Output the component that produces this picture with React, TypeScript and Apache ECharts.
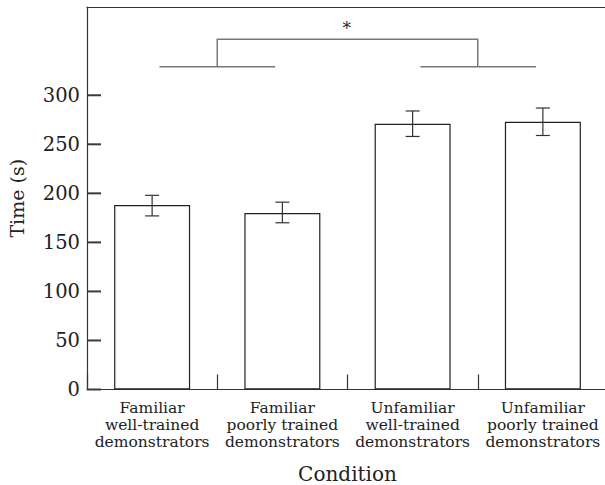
import React, { useEffect, useRef } from "react";
import * as echarts from "echarts";

const categories = [
  "Familiar\nwell-trained\ndemonstrators",
  "Familiar\npoorly trained\ndemonstrators",
  "Unfamiliar\nwell-trained\ndemonstrators",
  "Unfamiliar\npoorly trained\ndemonstrators",
];
const meanTimes = [188, 180, 271, 273];
const errLow = [177, 170, 258, 259];
const errHigh = [198, 191, 284, 287];
const yTickValues = [0, 50, 100, 150, 200, 250, 300];
const bracketBase = 329;
const bracketTop = 357;
const starLevel = 369;
const sigLabel = "*";

const FONT = "DejaVu Serif";

export default function App() {
  const ref = useRef<HTMLDivElement>(null);
  useEffect(() => {
    if (!ref.current) return;
    const chart = echarts.init(ref.current, undefined, { renderer: "svg" });
    const errData = categories.map((_, i) => [i, errLow[i], errHigh[i]]);
    const tickData = yTickValues.map((v) => [0, v]);
    chart.setOption({
      animation: false,
      backgroundColor: "#fff",
      textStyle: { fontFamily: FONT },
      grid: {
        left: 87,
        top: 7,
        width: 521,
        height: 382.5,
        show: false,
        containLabel: false,
        outerBoundsMode: "none",
      },
      xAxis: [
        {
          type: "category",
          data: categories,
          name: "Condition",
          nameLocation: "middle",
          nameGap: 74,
          nameTextStyle: { fontFamily: FONT, fontSize: 20, color: "#222" },
          axisLine: { show: true, lineStyle: { color: "#333", width: 1.2 } },
          axisTick: { show: true, inside: true, length: 15, lineStyle: { color: "#333", width: 1.2 } },
          axisLabel: {
            fontFamily: FONT,
            fontSize: 15.5,
            lineHeight: 17,
            color: "#222",
            margin: 10,
            interval: 0,
          },
        },
        {
          type: "category",
          position: "top",
          data: categories,
          axisLine: { show: true, onZero: false, lineStyle: { color: "#333", width: 1.2 } },
          axisTick: { show: false },
          axisLabel: { show: false },
        },
      ],
      yAxis: {
        type: "value",
        min: 0,
        max: 390,
        interval: 50,
        name: "Time (s)",
        nameLocation: "middle",
        nameGap: 61,
        nameTextStyle: { fontFamily: FONT, fontSize: 19, color: "#222" },
        splitLine: { show: false },
        axisLine: { show: true, lineStyle: { color: "#333", width: 1.2 } },
        axisTick: { show: false },
        axisLabel: {
          fontFamily: FONT,
          fontSize: 19.5,
          color: "#222",
          margin: 7,
          formatter: (v: number) => (yTickValues.indexOf(v) >= 0 ? String(v) : ""),
        },
      },
      series: [
        {
          type: "bar",
          data: meanTimes,
          barWidth: 76,
          itemStyle: { color: "#fff", borderColor: "#222", borderWidth: 1.2 },
          z: 2,
        },
        {
          type: "custom",
          data: tickData,
          z: 6,
          renderItem: (params: any, api: any) => {
            const c = api.coord([0, api.value(1)]);
            const bw = api.size([1, 0])[0];
            const x0 = c[0] - bw / 2;
            return {
              type: "line",
              shape: { x1: x0, y1: c[1], x2: x0 + 14, y2: c[1] },
              style: { stroke: "#3a3a3a", lineWidth: 2 },
            };
          },
        },
        {
          type: "custom",
          data: errData,
          z: 5,
          renderItem: (params: any, api: any) => {
            const i = api.value(0);
            const lo = api.coord([i, api.value(1)]);
            const hi = api.coord([i, api.value(2)]);
            const cap = 7;
            const st = { stroke: "#333", lineWidth: 1.2 };
            return {
              type: "group",
              children: [
                { type: "line", shape: { x1: lo[0], y1: lo[1], x2: hi[0], y2: hi[1] }, style: st },
                { type: "line", shape: { x1: lo[0] - cap, y1: lo[1], x2: lo[0] + cap, y2: lo[1] }, style: st },
                { type: "line", shape: { x1: hi[0] - cap, y1: hi[1], x2: hi[0] + cap, y2: hi[1] }, style: st },
              ],
            };
          },
        },
        {
          type: "custom",
          data: [[0]],
          z: 5,
          renderItem: (params: any, api: any) => {
            const c0 = api.coord([0, bracketBase]);
            const bw = api.size([1, 0])[0];
            const yb = c0[1];
            const yt = api.coord([0, bracketTop])[1];
            const ys = api.coord([0, starLevel])[1];
            const x = (f: number) => c0[0] + f * bw;
            const st = { stroke: "#777", lineWidth: 1.5 };
            return {
              type: "group",
              children: [
                { type: "line", shape: { x1: x(0.056), y1: yb, x2: x(0.944), y2: yb }, style: st },
                { type: "line", shape: { x1: x(2.06), y1: yb, x2: x(2.947), y2: yb }, style: st },
                { type: "polyline", shape: { points: [[x(0.5), yb], [x(0.5), yt], [x(2.5), yt], [x(2.5), yb]] }, style: { ...st, fill: null } },
                {
                  type: "text",
                  x: x(1.494),
                  y: ys,
                  style: {
                    text: sigLabel,
                    fontFamily: FONT,
                    fontSize: 17,
                    fill: "#222",
                    align: "center",
                    verticalAlign: "middle",
                  },
                },
              ],
            };
          },
        },
      ],
    });
    return () => chart.dispose();
  }, []);
  return (
    <div style={{ position: "absolute", left: 0, top: 0, width: 605, height: 485, overflow: "hidden", background: "#fff" }}>
      <div ref={ref} style={{ width: 625, height: 485 }} />
    </div>
  );
}
